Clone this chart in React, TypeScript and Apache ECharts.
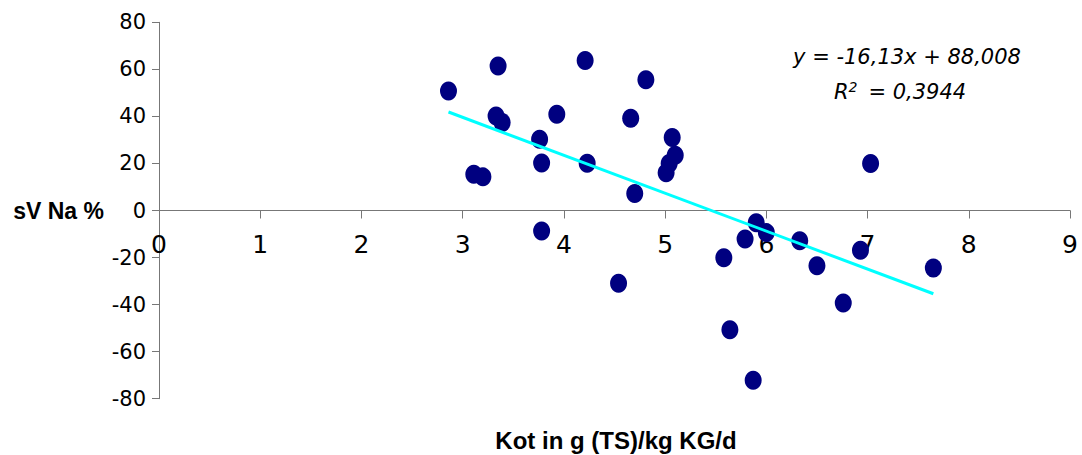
import React, { useEffect, useRef } from "react";
import * as echarts from "echarts";

// Data
const kotValues = [
  2.86, 3.35, 3.33, 3.39, 3.93, 4.21, 4.81, 4.66, 3.76, 3.78, 4.23, 3.11, 3.2, 5.07, 5.1, 5.04,
  5.01, 4.7, 3.78, 7.03, 4.54, 5.58, 5.64, 5.87, 5.79, 5.9, 6.0, 6.33, 6.5, 6.93, 7.65, 6.76,
];
const svNaValues = [
  50.8, 61.4, 40.2, 37.4, 40.9, 63.8, 55.6, 39.2, 30.3, 20.2, 20.1, 15.4, 14.3, 31.0, 23.5, 20.0,
  16.0, 7.2, -8.7, 20.0, -30.9, -20.1, -50.7, -72.2, -12.1, -5.2, -9.4, -12.9, -23.5, -16.9, -24.4,
  -39.3,
];
// Trend line (as printed on the chart)
const trendSlope = -16.13;
const trendIntercept = 88.008;
const equationText = "y = -16,13x + 88,008";
const r2Text = "0,3944";
const xAxisTitle = "Kot in g (TS)/kg KG/d";
const yAxisTitle = "sV Na %";

export default function App() {
  const ref = useRef<HTMLDivElement>(null);
  useEffect(() => {
    if (!ref.current) return;
    const chart = echarts.init(ref.current, null, { renderer: "svg" });
    const points = kotValues.map((x, i) => [x, svNaValues[i]]);
    const xMin = Math.min(...kotValues);
    const xMax = Math.max(...kotValues);
    const trend = [
      [xMin, trendSlope * xMin + trendIntercept],
      [xMax, trendSlope * xMax + trendIntercept],
    ];
    const axisColor = "#777777";
    const gridTop = 22.3;
    const gridHeight = 376.4;
    const yMin = -80;
    const yMax = 80;
    // distance from bottom of grid to the zero line
    const zeroOffset = -(gridHeight * (0 - yMin)) / (yMax - yMin);
    chart.setOption({
      animation: false,
      backgroundColor: "#ffffff",
      grid: { left: 159, top: gridTop, width: 911, height: gridHeight, containLabel: false },
      xAxis: {
        type: "value",
        min: 0,
        max: 9,
        interval: 1,
        position: "bottom",
        offset: zeroOffset,
        axisLine: { onZero: false, lineStyle: { color: axisColor, width: 1 } },
        axisTick: { show: true, inside: false, length: 8, lineStyle: { color: axisColor } },
        splitLine: { show: false },
        axisLabel: {
          fontFamily: "DejaVu Sans",
          fontSize: 25,
          color: "#000",
          margin: 21,
        },
      },
      yAxis: {
        type: "value",
        min: yMin,
        max: yMax,
        interval: 20,
        axisLine: { show: true, onZero: false, lineStyle: { color: axisColor, width: 1 } },
        axisTick: { show: true, length: 7, lineStyle: { color: axisColor } },
        splitLine: { show: false },
        axisLabel: {
          fontFamily: "DejaVu Sans",
          fontSize: 21,
          color: "#000",
          margin: 13,
        },
      },
      graphic: [
        {
          type: "text",
          x: 104,
          y: 211,
          style: {
            text: yAxisTitle,
            fontFamily: "Liberation Sans",
            fontWeight: "bold",
            fontSize: 23,
            fill: "#000",
            align: "right",
            verticalAlign: "middle",
          },
        },
        {
          type: "text",
          x: 616,
          y: 440,
          style: {
            text: xAxisTitle,
            fontFamily: "Liberation Sans",
            fontWeight: "bold",
            fontSize: 24,
            fill: "#000",
            align: "center",
            verticalAlign: "middle",
          },
        },
        {
          type: "text",
          x: 907,
          y: 57,
          style: {
            text: equationText,
            fontFamily: "DejaVu Sans",
            fontStyle: "italic",
            fontSize: 21,
            fill: "#000",
            align: "center",
            verticalAlign: "middle",
          },
        },
        {
          type: "text",
          x: 900,
          y: 92,
          style: {
            text: "{r|R}{s|2}{e|= " + r2Text + "}",
            align: "center",
            verticalAlign: "middle",
            rich: {
              r: { fontFamily: "DejaVu Sans", fontStyle: "italic", fontSize: 21, fill: "#000" },
              s: {
                fontFamily: "DejaVu Sans",
                fontStyle: "italic",
                fontSize: 14,
                fill: "#000",
                padding: [0, 0, 10, 0],
              },
              e: {
                fontFamily: "DejaVu Sans",
                fontStyle: "italic",
                fontSize: 21,
                fill: "#000",
                padding: [0, 0, 0, 11],
              },
            },
          },
        },
      ],
      series: [
        {
          type: "scatter",
          data: points,
          symbol: "circle",
          symbolSize: [17, 19],
          itemStyle: { color: "#000080", opacity: 1 },
          z: 2,
        },
        {
          type: "line",
          data: trend,
          showSymbol: false,
          symbol: "none",
          lineStyle: { color: "#00ffff", width: 3 },
          z: 3,
        },
      ],
    });
    return () => chart.dispose();
  }, []);
  return (
    <div
      ref={ref}
      style={{ position: "fixed", left: 0, top: 0, width: 1082, height: 455, background: "#fff" }}
    />
  );
}
